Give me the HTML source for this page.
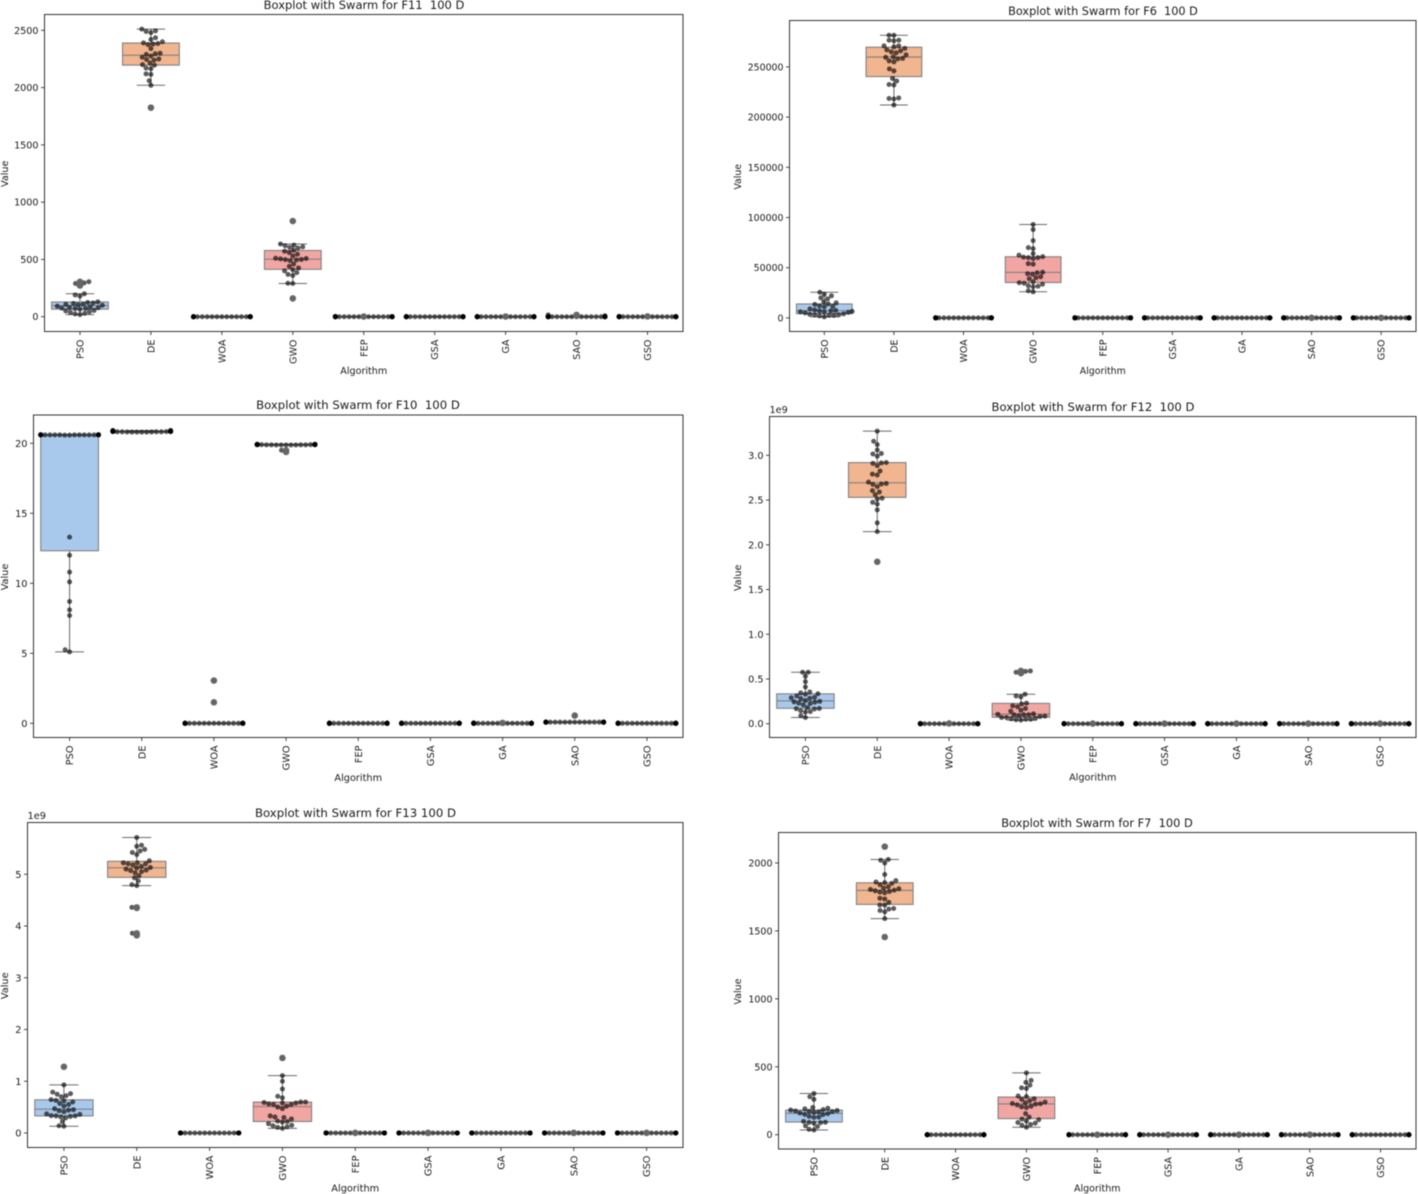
<!DOCTYPE html>
<html lang="en">
<head>
<meta charset="utf-8">
<title>Boxplots with Swarm</title>
<style>
html,body{margin:0;padding:0;background:#fff;width:1418px;height:1194px;overflow:hidden}
svg{display:block;filter:blur(0.4px)}
text{font-family:"DejaVu Sans","Liberation Sans",sans-serif;fill:#1a1a1a;white-space:pre}
</style>
</head>
<body>
<svg id="figure" xmlns="http://www.w3.org/2000/svg" width="1418" height="1194" viewBox="0 0 1418 1194"></svg>
<script>
const categories = ['PSO','DE','WOA','GWO','FEP','GSA','GA','SAO','GSO'];
const boxColors = ['#a9c9ec','#f1b58f','#a9dcb4','#f2a6a3','#c9bce8','#d9bca2','#efb4dc','#cfcfcf','#f5f3ac'];

/* F11 */
const f11Pso = [305,295,290,272,200,190,180,130,124,120,115,110,108,105,100,92,85,80,78,75,72,70,65,55,50,42,38,30,25,18];
const f11De = [2510,2495,2490,2480,2435,2420,2400,2390,2385,2380,2375,2340,2300,2295,2290,2275,2265,2250,2245,2240,2215,2200,2195,2170,2165,2120,2115,2060,2020,1825];
const f11Woa = [0,0,0,0,0,0,0,0,0,0,0,0,0,0,0,0,0,0,0,0,0,0,0,0,0,0,0,0,0,0];
const f11Gwo = [835,635,625,620,610,605,600,580,572,560,545,530,510,508,505,500,498,495,490,460,440,425,410,400,385,370,360,292,290,160];
const f11Fep = [2,0,0,0,0,0,0,0,0,0,0,0,0,0,0,0,0,0,0,0,0,0,0,0,0,0,0,0,0,0];
const f11Gsa = [0,0,0,0,0,0,0,0,0,0,0,0,0,0,0,0,0,0,0,0,0,0,0,0,0,0,0,0,0,0];
const f11Ga = [2,0,0,0,0,0,0,0,0,0,0,0,0,0,0,0,0,0,0,0,0,0,0,0,0,0,0,0,0,0];
const f11Sao = [16,8,0,0,0,0,0,0,0,0,0,0,0,0,0,0,0,0,0,0,0,0,0,0,0,0,0,0,0,0];
const f11Gso = [3,0,0,0,0,0,0,0,0,0,0,0,0,0,0,0,0,0,0,0,0,0,0,0,0,0,0,0,0,0];
const f11Ticks = [0,500,1000,1500,2000,2500];
const f11TickLabels = ['0','500','1000','1500','2000','2500'];

/* F6 */
const f6Pso = [25500,23500,22000,20000,19000,16000,15000,14000,13500,12000,11500,11000,9000,8000,7500,7000,7000,6500,6000,6000,5500,5000,4000,3500,3000,3000,2500,2500,2000,1000];
const f6De = [281500,281500,276500,276500,276000,271000,271000,270000,268500,267000,266000,265000,264000,262000,260000,259500,258500,258000,256000,255000,248000,246000,238500,236000,232500,232000,219000,218500,218000,212000];
const f6Woa = [0,0,0,0,0,0,0,0,0,0,0,0,0,0,0,0,0,0,0,0,0,0,0,0,0,0,0,0,0,0];
const f6Gwo = [93000,88000,77000,70000,69000,64000,62500,61000,60500,60000,60000,59000,54000,53500,45500,45000,44000,43500,41000,40000,39000,36000,35000,34500,33500,32000,31500,31000,27000,26000];
const f6Fep = [0,0,0,0,0,0,0,0,0,0,0,0,0,0,0,0,0,0,0,0,0,0,0,0,0,0,0,0,0,0];
const f6Gsa = [0,0,0,0,0,0,0,0,0,0,0,0,0,0,0,0,0,0,0,0,0,0,0,0,0,0,0,0,0,0];
const f6Ga = [0,0,0,0,0,0,0,0,0,0,0,0,0,0,0,0,0,0,0,0,0,0,0,0,0,0,0,0,0,0];
const f6Sao = [60,0,0,0,0,0,0,0,0,0,0,0,0,0,0,0,0,0,0,0,0,0,0,0,0,0,0,0,0,0];
const f6Gso = [60,0,0,0,0,0,0,0,0,0,0,0,0,0,0,0,0,0,0,0,0,0,0,0,0,0,0,0,0,0];
const f6Ticks = [0,50000,100000,150000,200000,250000];
const f6TickLabels = ['0','50000','100000','150000','200000','250000'];

/* F10 */
const f10Pso = [20.62,20.62,20.6,20.6,20.6,20.6,20.6,20.6,20.6,20.6,20.6,20.6,20.6,20.6,20.6,20.6,20.6,20.6,20.6,20.58,20.58,13.3,12,10.8,10.1,8.7,8.1,7.7,5.25,5.1];
const f10De = [20.91,20.91,20.9,20.9,20.88,20.88,20.86,20.86,20.86,20.85,20.85,20.85,20.85,20.84,20.84,20.84,20.84,20.83,20.83,20.83,20.82,20.82,20.82,20.82,20.81,20.81,20.8,20.8,20.8,20.8];
const f10Woa = [3.05,1.5,0,0,0,0,0,0,0,0,0,0,0,0,0,0,0,0,0,0,0,0,0,0,0,0,0,0,0,0];
const f10Gwo = [19.93,19.93,19.92,19.92,19.92,19.91,19.91,19.91,19.91,19.9,19.9,19.9,19.9,19.9,19.9,19.9,19.9,19.9,19.9,19.89,19.89,19.89,19.89,19.88,19.88,19.88,19.88,19.88,19.5,19.38];
const f10Fep = [0,0,0,0,0,0,0,0,0,0,0,0,0,0,0,0,0,0,0,0,0,0,0,0,0,0,0,0,0,0];
const f10Gsa = [0,0,0,0,0,0,0,0,0,0,0,0,0,0,0,0,0,0,0,0,0,0,0,0,0,0,0,0,0,0];
const f10Ga = [0.03,0,0,0,0,0,0,0,0,0,0,0,0,0,0,0,0,0,0,0,0,0,0,0,0,0,0,0,0,0];
const f10Sao = [0.55,0.08,0.08,0.08,0.08,0.08,0.08,0.08,0.08,0.08,0.08,0.08,0.08,0.08,0.08,0.08,0.08,0.08,0.08,0.08,0.08,0.08,0.08,0.08,0.08,0.08,0.08,0.08,0.08,0.08];
const f10Gso = [0,0,0,0,0,0,0,0,0,0,0,0,0,0,0,0,0,0,0,0,0,0,0,0,0,0,0,0,0,0];
const f10Ticks = [0,5,10,15,20];
const f10TickLabels = ['0','5','10','15','20'];

/* F12 (units of 1e9) */
const f12Pso = [0.575,0.575,0.53,0.47,0.41,0.355,0.345,0.335,0.33,0.31,0.295,0.29,0.285,0.28,0.26,0.25,0.245,0.24,0.23,0.225,0.21,0.18,0.17,0.168,0.165,0.145,0.135,0.13,0.09,0.07];
const f12De = [3.27,3.157,3.12,3.06,3.02,3.015,2.99,2.92,2.915,2.91,2.885,2.825,2.79,2.78,2.70,2.685,2.68,2.675,2.65,2.605,2.59,2.56,2.52,2.51,2.475,2.455,2.39,2.245,2.147,1.81];
const f12Woa = [0.003,0,0,0,0,0,0,0,0,0,0,0,0,0,0,0,0,0,0,0,0,0,0,0,0,0,0,0,0,0];
const f12Gwo = [0.59,0.585,0.575,0.565,0.33,0.31,0.30,0.23,0.22,0.2,0.19,0.17,0.15,0.14,0.11,0.105,0.1,0.1,0.1,0.09,0.085,0.08,0.07,0.07,0.06,0.055,0.05,0.05,0.045,0.04];
const f12Fep = [0.002,0,0,0,0,0,0,0,0,0,0,0,0,0,0,0,0,0,0,0,0,0,0,0,0,0,0,0,0,0];
const f12Gsa = [0.002,0,0,0,0,0,0,0,0,0,0,0,0,0,0,0,0,0,0,0,0,0,0,0,0,0,0,0,0,0];
const f12Ga = [0.002,0,0,0,0,0,0,0,0,0,0,0,0,0,0,0,0,0,0,0,0,0,0,0,0,0,0,0,0,0];
const f12Sao = [0.002,0,0,0,0,0,0,0,0,0,0,0,0,0,0,0,0,0,0,0,0,0,0,0,0,0,0,0,0,0];
const f12Gso = [0.002,0,0,0,0,0,0,0,0,0,0,0,0,0,0,0,0,0,0,0,0,0,0,0,0,0,0,0,0,0];
const f12Ticks = [0,0.5,1,1.5,2,2.5,3];
const f12TickLabels = ['0.0','0.5','1.0','1.5','2.0','2.5','3.0'];

/* F13 (units of 1e9) */
const f13Pso = [1.28,0.93,0.79,0.76,0.75,0.72,0.7,0.645,0.63,0.62,0.6,0.57,0.55,0.52,0.47,0.45,0.44,0.43,0.41,0.37,0.36,0.335,0.33,0.33,0.32,0.31,0.29,0.22,0.14,0.13];
const f13De = [5.71,5.56,5.54,5.48,5.45,5.42,5.38,5.26,5.22,5.22,5.2,5.2,5.18,5.15,5.13,5.12,5.1,5.08,5.07,5.05,5.03,4.97,4.93,4.87,4.8,4.78,4.36,4.35,3.86,3.82];
const f13Woa = [0,0,0,0,0,0,0,0,0,0,0,0,0,0,0,0,0,0,0,0,0,0,0,0,0,0,0,0,0,0];
const f13Gwo = [1.45,1.11,1.0,0.85,0.71,0.68,0.6,0.6,0.59,0.58,0.58,0.56,0.55,0.55,0.52,0.5,0.47,0.33,0.31,0.3,0.27,0.23,0.22,0.21,0.18,0.15,0.14,0.12,0.11,0.09];
const f13Fep = [0.003,0,0,0,0,0,0,0,0,0,0,0,0,0,0,0,0,0,0,0,0,0,0,0,0,0,0,0,0,0];
const f13Gsa = [0.003,0,0,0,0,0,0,0,0,0,0,0,0,0,0,0,0,0,0,0,0,0,0,0,0,0,0,0,0,0];
const f13Ga = [0,0,0,0,0,0,0,0,0,0,0,0,0,0,0,0,0,0,0,0,0,0,0,0,0,0,0,0,0,0];
const f13Sao = [0.003,0,0,0,0,0,0,0,0,0,0,0,0,0,0,0,0,0,0,0,0,0,0,0,0,0,0,0,0,0];
const f13Gso = [0.003,0,0,0,0,0,0,0,0,0,0,0,0,0,0,0,0,0,0,0,0,0,0,0,0,0,0,0,0,0];
const f13Ticks = [0,1,2,3,4,5];
const f13TickLabels = ['0','1','2','3','4','5'];

/* F7 */
const f7Pso = [303,280,260,200,195,190,185,182,178,175,172,170,168,165,160,155,150,148,135,130,128,98,92,90,88,85,65,60,40,35];
const f7De = [2120,2025,2020,2000,1915,1870,1860,1855,1850,1840,1825,1815,1810,1805,1800,1795,1790,1785,1780,1740,1735,1710,1690,1690,1665,1660,1650,1640,1590,1455];
const f7Woa = [0,0,0,0,0,0,0,0,0,0,0,0,0,0,0,0,0,0,0,0,0,0,0,0,0,0,0,0,0,0];
const f7Gwo = [455,400,385,365,345,340,285,281,265,260,250,240,235,230,228,225,220,210,205,200,155,130,115,110,100,90,85,75,70,55];
const f7Fep = [0.5,0,0,0,0,0,0,0,0,0,0,0,0,0,0,0,0,0,0,0,0,0,0,0,0,0,0,0,0,0];
const f7Gsa = [0.5,0,0,0,0,0,0,0,0,0,0,0,0,0,0,0,0,0,0,0,0,0,0,0,0,0,0,0,0,0];
const f7Ga = [0.5,0,0,0,0,0,0,0,0,0,0,0,0,0,0,0,0,0,0,0,0,0,0,0,0,0,0,0,0,0];
const f7Sao = [0.5,0,0,0,0,0,0,0,0,0,0,0,0,0,0,0,0,0,0,0,0,0,0,0,0,0,0,0,0,0];
const f7Gso = [0,0,0,0,0,0,0,0,0,0,0,0,0,0,0,0,0,0,0,0,0,0,0,0,0,0,0,0,0,0];
const f7Ticks = [0,500,1000,1500,2000];
const f7TickLabels = ['0','500','1000','1500','2000'];

const SVG_NS = 'http://www.w3.org/2000/svg';
const figure = document.getElementById('figure');
const DOT_D = 4.9;

function make(tag, parent, attrs) {
  const el = document.createElementNS(SVG_NS, tag);
  for (const k in attrs) el.setAttribute(k, attrs[k]);
  parent.appendChild(el);
  return el;
}

function quantile(sortedAsc, q) {
  const pos = (sortedAsc.length - 1) * q;
  const lo = Math.floor(pos);
  const hi = Math.ceil(pos);
  return sortedAsc[lo] + (sortedAsc[hi] - sortedAsc[lo]) * (pos - lo);
}

function boxStats(values) {
  const s = values.slice().sort((a, b) => a - b);
  const q1 = quantile(s, 0.25);
  const med = quantile(s, 0.5);
  const q3 = quantile(s, 0.75);
  const iqr = q3 - q1;
  const inside = s.filter(v => v >= q1 - 1.5 * iqr && v <= q3 + 1.5 * iqr);
  const loW = inside.length ? Math.min(inside[0], q1) : q1;
  const hiW = inside.length ? Math.max(inside[inside.length - 1], q3) : q3;
  const fliers = s.filter(v => v < loW || v > hiW);
  return { q1, med, q3, loW, hiW, fliers };
}

/* Swarm layout in pixel space, offsets from the category centre */
function swarmOffsets(ys, limit) {
  const order = ys.map((y, i) => i).sort((a, b) => ys[b] - ys[a]);
  const placed = [];
  const out = new Array(ys.length);
  const eps = 1e-6;
  order.forEach(i => {
    const y = ys[i];
    const near = placed.filter(p => Math.abs(p.y - y) < DOT_D);
    const cands = [0];
    let leftFirst = true;
    near.forEach(p => {
      const dx = Math.sqrt(Math.max(0, DOT_D * DOT_D - (p.y - y) * (p.y - y)));
      if (leftFirst) cands.push(p.x - dx, p.x + dx);
      else cands.push(p.x + dx, p.x - dx);
      leftFirst = !leftFirst;
    });
    const free = cands.filter(c => near.every(p => Math.hypot(p.x - c, p.y - y) >= DOT_D - eps));
    let best = free[0] === undefined ? 0 : free[0];
    free.forEach(c => { if (Math.abs(c) < Math.abs(best) - eps) best = c; });
    placed.push({ x: best, y: y });
    out[i] = Math.max(-limit, Math.min(limit, best));
  });
  return out;
}

function drawPanel(p) {
  const g = make('g', figure, {});
  
  

  const w = p.right - p.left;
  const step = w / categories.length;
  const xScale = i => p.left + step * (i + 0.5);
  const yScale = v => p.bottom - (v - p.yMin) / (p.yMax - p.yMin) * (p.bottom - p.top);
  const smallFont = (9.5 * p.fontScale).toFixed(2);
  const titleFont = (11.4 * p.fontScale).toFixed(2);

  const title = make('text', g, { x: p.titleX, y: p.titleY, 'text-anchor': 'middle', 'font-size': titleFont });
  title.textContent = p.title;
  
  

  p.series.forEach((values, i) => {
    const cx = xScale(i);
    const st = boxStats(values);
    const group = make('g', g, {});
    
    

    const capHalf = step * 0.2;
    const whiskerHi = make('line', group, { x1: cx, x2: cx, y1: yScale(st.q3), y2: yScale(st.hiW), stroke: '#666', 'stroke-width': 1 });
    
    
    const whiskerLo = make('line', group, { x1: cx, x2: cx, y1: yScale(st.q1), y2: yScale(st.loW), stroke: '#666', 'stroke-width': 1 });
    
    
    const capHi = make('line', group, { x1: cx - capHalf, x2: cx + capHalf, y1: yScale(st.hiW), y2: yScale(st.hiW), stroke: '#6a6a6a', 'stroke-width': 1 });
    
    
    const capLo = make('line', group, { x1: cx - capHalf, x2: cx + capHalf, y1: yScale(st.loW), y2: yScale(st.loW), stroke: '#6a6a6a', 'stroke-width': 1 });
    
    

    const boxTop = yScale(st.q3);
    const boxBottom = yScale(st.q1);
    const box = make('rect', group, { x: cx - step * 0.4, y: boxTop, width: step * 0.8, height: Math.max(0, boxBottom - boxTop), fill: boxColors[i], stroke: '#808080', 'stroke-width': 1.1 });
    
    
    const median = make('line', group, { x1: cx - step * 0.4, x2: cx + step * 0.4, y1: yScale(st.med), y2: yScale(st.med), stroke: '#808080', 'stroke-width': 1.1 });
    
    

    const ys = values.map(yScale);
    const offsets = swarmOffsets(ys, step * 0.4);
    ys.forEach((y, k) => {
      const dot = make('circle', group, { cx: cx + offsets[k], cy: y, r: 2.5, fill: '#000', 'fill-opacity': 0.64 });
      
      
    });

    st.fliers.forEach(v => {
      const flier = make('circle', group, { cx: cx, cy: yScale(v), r: 3.3, fill: '#666', 'fill-opacity': 0.96 });
      
      
    });
  });

  const frame = make('rect', g, { x: p.left, y: p.top, width: w, height: p.bottom - p.top, fill: 'none', stroke: '#333', 'stroke-width': 1 });
  
  

  p.ticks.forEach((t, i) => {
    const yy = yScale(t);
    const tick = make('line', g, { x1: p.left - 3.5, x2: p.left, y1: yy, y2: yy, stroke: '#333', 'stroke-width': 0.9 });
    
    
    const lab = make('text', g, { x: p.left - 6, y: yy + 3.5, 'text-anchor': 'end', 'font-size': smallFont });
    lab.textContent = p.tickLabels[i];
    
    
  });

  categories.forEach((c, i) => {
    const cx = xScale(i);
    const tick = make('line', g, { x1: cx, x2: cx, y1: p.bottom, y2: p.bottom + 3.5, stroke: '#333', 'stroke-width': 0.9 });
    
    
    const ly = p.bottom + 8;
    const bx = cx + 3.5;
    const lab = make('text', g, { x: bx, y: ly, 'text-anchor': 'end', 'font-size': smallFont, transform: 'rotate(-90 ' + bx + ' ' + ly + ')' });
    lab.textContent = c;
    
    
  });

  const xTitle = make('text', g, { x: (p.left + p.right) / 2, y: p.bottom + p.xTitleDy, 'text-anchor': 'middle', 'font-size': smallFont });
  xTitle.textContent = 'Algorithm';
  
  

  const yMid = (p.top + p.bottom) / 2 + 0.8;
  const yTitle = make('text', g, { x: p.yLabelX, y: yMid, 'text-anchor': 'middle', 'font-size': smallFont, transform: 'rotate(-90 ' + p.yLabelX + ' ' + yMid + ')' });
  yTitle.textContent = 'Value';
  
  

  if (p.offsetText) {
    const off = make('text', g, { x: p.left, y: p.top - 3.5, 'font-size': smallFont });
    off.textContent = p.offsetText;
    
    
  }
}

[
  { key:'f11', title:'Boxplot with Swarm for F11  100 D', fontScale:1.01, titleX:364, titleY:9, left:44.5, right:683, top:14.5, bottom:331.5, yMin:-129, yMax:2638, yLabelX:8, xTitleDy:42.5,
    ticks:f11Ticks, tickLabels:f11TickLabels, series:[f11Pso,f11De,f11Woa,f11Gwo,f11Fep,f11Gsa,f11Ga,f11Sao,f11Gso] },
  { key:'f6', title:'Boxplot with Swarm for F6  100 D', fontScale:0.99, titleX:1103, titleY:15, left:789.5, right:1416, top:20.5, bottom:331.5, yMin:-13546, yMax:296215, yLabelX:741, xTitleDy:42.5,
    ticks:f6Ticks, tickLabels:f6TickLabels, series:[f6Pso,f6De,f6Woa,f6Gwo,f6Fep,f6Gsa,f6Ga,f6Sao,f6Gso] },
  { key:'f10', title:'Boxplot with Swarm for F10  100 D', fontScale:1.025, titleX:358, titleY:409, left:33.5, right:683, top:415, bottom:737.5, yMin:-1.014, yMax:22.02, yLabelX:8, xTitleDy:43.5,
    ticks:f10Ticks, tickLabels:f10TickLabels, series:[f10Pso,f10De,f10Woa,f10Gwo,f10Fep,f10Gsa,f10Ga,f10Sao,f10Gso] },
  { key:'f12', title:'Boxplot with Swarm for F12  100 D', fontScale:1.02, titleX:1093, titleY:411, left:769.5, right:1416, top:416.5, bottom:737.5, yMin:-0.154, yMax:3.434, yLabelX:741, xTitleDy:43, offsetText:'1e9',
    ticks:f12Ticks, tickLabels:f12TickLabels, series:[f12Pso,f12De,f12Woa,f12Gwo,f12Fep,f12Gsa,f12Ga,f12Sao,f12Gso] },
  { key:'f13', title:'Boxplot with Swarm for F13 100 D', fontScale:1.03, titleX:355.5, titleY:817, left:27.5, right:683, top:822.5, bottom:1147.5, yMin:-0.28, yMax:6.0, yLabelX:8, xTitleDy:44, offsetText:'1e9',
    ticks:f13Ticks, tickLabels:f13TickLabels, series:[f13Pso,f13De,f13Woa,f13Gwo,f13Fep,f13Gsa,f13Ga,f13Sao,f13Gso] },
  { key:'f7', title:'Boxplot with Swarm for F7  100 D', fontScale:1, titleX:1097, titleY:827, left:778.5, right:1416, top:832.5, bottom:1149, yMin:-105, yMax:2224, yLabelX:741, xTitleDy:42.5,
    ticks:f7Ticks, tickLabels:f7TickLabels, series:[f7Pso,f7De,f7Woa,f7Gwo,f7Fep,f7Gsa,f7Ga,f7Sao,f7Gso] }
].forEach(drawPanel);
</script>
</body>
</html>
